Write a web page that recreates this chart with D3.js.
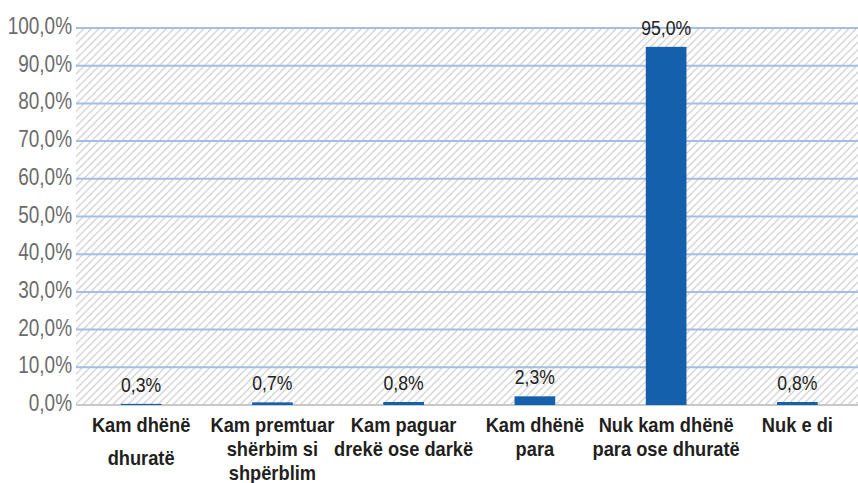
<!DOCTYPE html>
<html>
<head>
<meta charset="utf-8">
<script src="https://cdn.jsdelivr.net/npm/d3@7"></script>
<style>
  body { margin: 0; background: #fff; }
  svg { display: block; }
  text { font-family: 'Liberation Sans', Arial, sans-serif; }
</style>
</head>
<body>
<svg id="chart"></svg>
<script>
// data
const categories = [
  ['Kam dhënë', 'dhuratë'],
  ['Kam premtuar', 'shërbim si', 'shpërblim'],
  ['Kam paguar', 'drekë ose darkë'],
  ['Kam dhënë', 'para'],
  ['Nuk kam dhënë', 'para ose dhuratë'],
  ['Nuk e di']
]
const values = [0.3, 0.7, 0.8, 2.3, 95.0, 0.8]
const tickValues = [0, 10, 20, 30, 40, 50, 60, 70, 80, 90, 100]

const width = 858
const height = 483
const fmt = v => v.toFixed(1).replace('.', ',') + '%'

const svg = d3.select('#chart')
  .attr('width', width)
  .attr('height', height)

const x = d3.scaleBand()
  .domain(d3.range(values.length))
  .range([75.5, 863])
  .paddingInner(0.69)
  .paddingOuter(0.345)

const y = d3.scaleLinear()
  .domain([0, 100])
  .range([405, 28])

const cx = i => x(i) + x.bandwidth() / 2

// hatched plot background
const defs = svg.append('defs')
const pat = defs.append('pattern')
  .attr('id', 'hatch')
  .attr('patternUnits', 'userSpaceOnUse')
  .attr('width', 7.5)
  .attr('height', 7.5)
pat.append('path')
  .attr('d', 'M-1,1 L1,-1 M0,7.5 L7.5,0 M6.5,8.5 L8.5,6.5')
  .attr('stroke', '#c4c4c4')
  .attr('stroke-width', 1.1)

svg.append('rect')
  .attr('x', 76)
  .attr('y', y(100))
  .attr('width', width - 76)
  .attr('height', y(0) - y(100))
  .attr('fill', 'url(#hatch)')

// gridlines
svg.append('g')
  .selectAll('line')
  .data(tickValues)
  .enter()
  .append('line')
  .attr('x1', 76)
  .attr('x2', width)
  .attr('y1', d => y(d))
  .attr('y2', d => y(d))
  .attr('stroke', d => d === 0 ? '#c8c8c8' : '#a5bfe2')
  .attr('stroke-width', 2)

// condensed look: squeeze text horizontally
const squeezed = (sel, sx) => sel.append('g')
  .attr('transform', d => `translate(${d.x},${d.y}) scale(${sx},1)`)
  .append('text')

// y axis labels
squeezed(
  svg.append('g').selectAll('g')
    .data(tickValues.map(v => ({ x: 72, y: y(v) + 6, v })))
    .enter(), 0.79)
  .attr('text-anchor', 'end')
  .attr('font-size', 24)
  .attr('fill', '#6b6b6b')
  .text(d => fmt(d.v))

// bars
svg.append('g')
  .selectAll('rect')
  .data(values)
  .enter()
  .append('rect')
  .attr('x', (d, i) => x(i))
  .attr('y', d => y(d))
  .attr('width', x.bandwidth())
  .attr('height', d => y(0) - y(d))
  .attr('fill', '#1560ac')

// value labels
squeezed(
  svg.append('g').selectAll('g')
    .data(values.map((v, i) => ({ x: cx(i), y: y(v) - 12, v })))
    .enter(), 0.84)
  .attr('text-anchor', 'middle')
  .attr('font-size', 21)
  .attr('fill', '#222')
  .text(d => fmt(d.v))

// category labels
squeezed(
  svg.append('g').selectAll('g')
    .data(categories.map((lines, i) => ({ x: cx(i), y: 432, lines, i })))
    .enter(), 0.87)
  .attr('text-anchor', 'middle')
  .attr('font-weight', 'bold')
  .attr('font-size', 21)
  .attr('fill', '#231f20')
  .each(function(d) {
    const t = d3.select(this)
    d.lines.forEach((line, j) => {
      t.append('tspan')
        .attr('x', 0)
        .attr('dy', j === 0 ? 0 : (d.i === 0 ? 33 : 24))
        .text(line)
    })
  })
</script>
</body>
</html>
